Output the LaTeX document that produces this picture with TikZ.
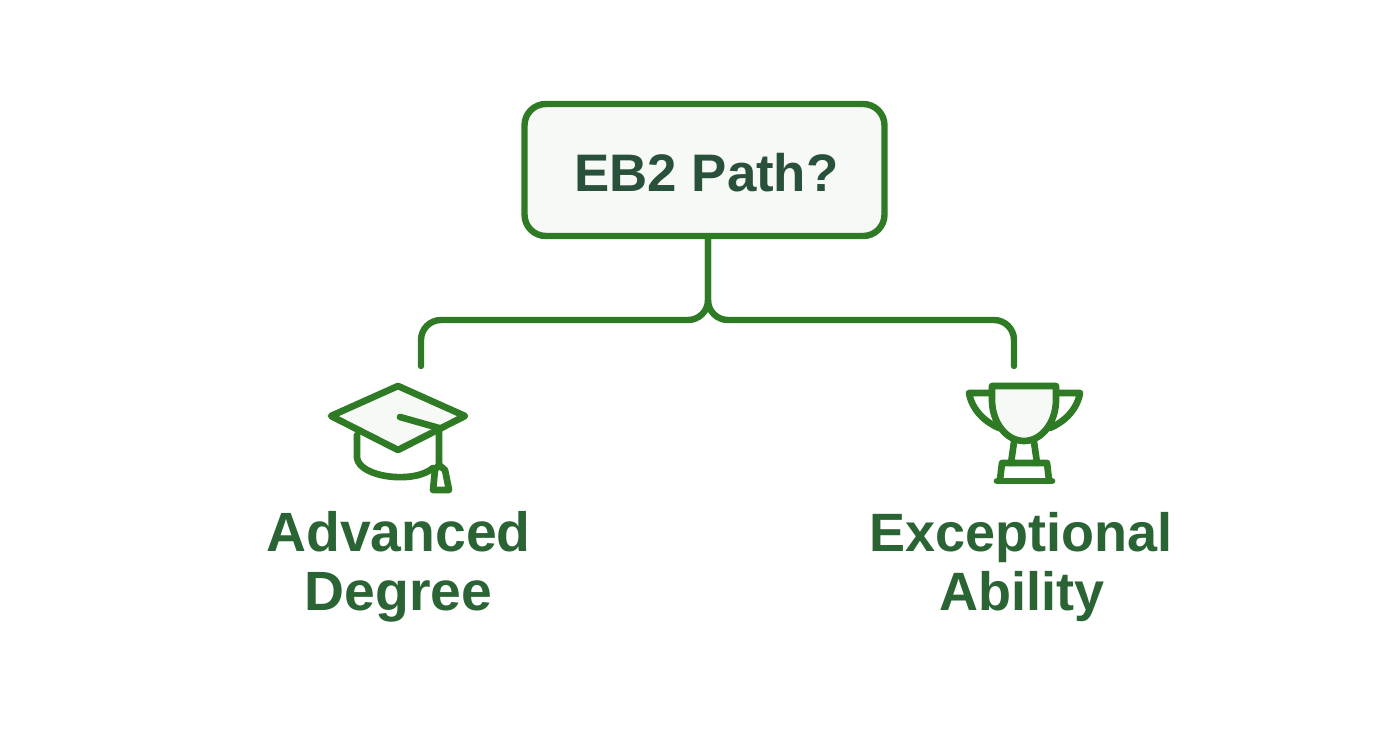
\documentclass[tikz,border=0pt]{standalone}
\usepackage{fontspec}
\setmainfont{Liberation Sans}
\definecolor{lineg}{HTML}{2F7A24}
\definecolor{textg}{HTML}{2A6334}
\definecolor{darkg}{HTML}{28503A}
\definecolor{paleg}{HTML}{F6F9F5}
\tikzset{
  rootbox/.style={draw=lineg,line width=4.8pt,fill=paleg,rounded corners=16pt,minimum width=270pt,minimum height=99pt,inner sep=0pt,text=darkg,font=\bfseries\fontsize{39.6}{44}\selectfont},
  labelleft/.style={text=textg,align=center,inner sep=0pt,font=\bfseries\fontsize{41.5}{44.5}\selectfont},
  labelright/.style={text=textg,align=center,inner sep=0pt,font=\bfseries\fontsize{40.5}{44.5}\selectfont},
  link/.style={draw=lineg,line width=4.8pt,line cap=round,rounded corners=15pt},
  icon/.style={draw=lineg,line width=5pt,line join=round,line cap=round},
  iconfill/.style={icon,fill=paleg}
}
\begin{document}
\begin{tikzpicture}[x=0.75pt,y=-0.75pt]
\useasboundingbox[fill=white] (0,0) rectangle (1392,752);
\node[rootbox] (root) at (704.5,170) {\raisebox{-16.5pt}[0pt][0pt]{\hspace{3pt}EB2 Path?}};
\coordinate (forkL) at (708,320);
\coordinate (endL) at (421,366);
\coordinate (endR) at (1014,366);
\draw[link] (root.south -| forkL) -- (forkL) -- (forkL -| endL) -- (endL);
\draw[link] (root.south -| forkL) -- (forkL) -- (forkL -| endR) -- (endR);
% graduation cap
\draw[icon] (357,435) -- (357,458) .. controls (360,478) and (415,484) .. (433,468);
\draw[iconfill] (398,386) -- (465,416) -- (398,450) -- (331,416) -- cycle;
\draw[icon] (400,417) -- (439,428) -- (439,465);
\draw[icon,fill=white] (439,465) -- (445,470) -- (449,490) -- (433,490) -- (435,470) -- cycle;
% trophy
\draw[icon] (992,393) -- (969,393) .. controls (972,410) and (985,422) .. (999,428);
\draw[icon] (1056,393) -- (1080,393) .. controls (1077,410) and (1064,422) .. (1050,428);
\draw[iconfill] (992,386) -- (1056,386) -- (1056,400) .. controls (1056,422) and (1042,441) .. (1024,441) .. controls (1006,441) and (992,422) .. (992,400) -- cycle;
\draw[icon] (1014,442) -- (1011,463);
\draw[icon] (1034,442) -- (1037,463);
\draw[icon] (1000,480) -- (1002,463) -- (1047,463) -- (1049,480);
\draw[icon] (997,481) -- (1052,481);
% labels
\node[labelleft] (adv) at (398.5,567) {Advanced\\Degree};
\node[labelright] (exc) at (1021,567) {Exceptional\\\hspace{2pt}Ability};
\end{tikzpicture}
\end{document}
